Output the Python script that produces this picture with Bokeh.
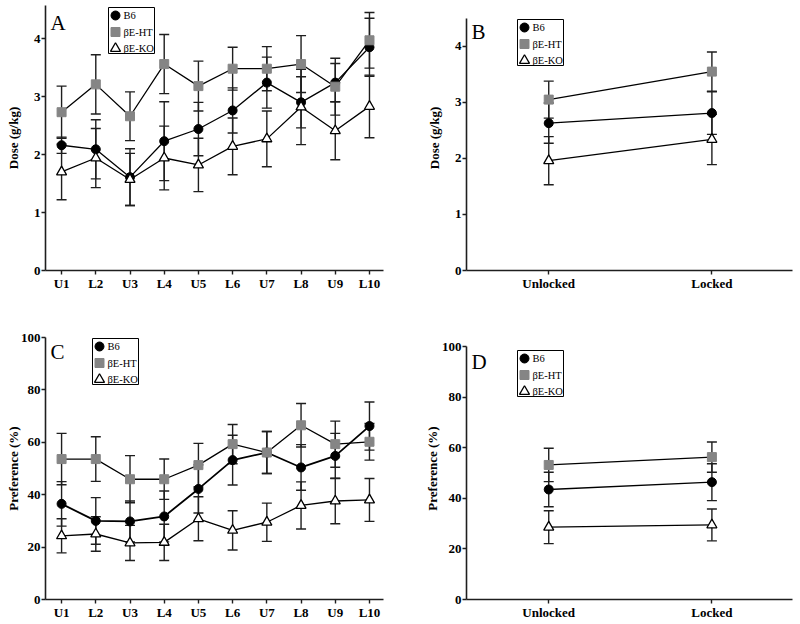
from bokeh.plotting import figure
from bokeh.layouts import row, column
from bokeh.models import FixedTicker, Range1d, Label, ColumnDataSource, BoxAnnotation
from bokeh.embed import file_html
from bokeh.resources import INLINE

FONT = "'Liberation Serif', 'Times New Roman', Times, 'DejaVu Serif', serif"

# ---------------- data ----------------
sessions = ["U1", "L2", "U3", "L4", "U5", "L6", "U7", "L8", "U9", "L10"]
phases = ["Unlocked", "Locked"]
groups = ["B6", "\u03b2E-HT", "\u03b2E-KO"]

# Panel A: dose (g/kg) by session
b6_dose = [2.16, 2.09, 1.61, 2.23, 2.44, 2.76, 3.24, 2.90, 3.24, 3.85]
b6_dose_err = [0.14, 0.51, 0.49, 0.68, 0.46, 0.39, 0.44, 0.44, 0.33, 0.50]
ht_dose = [2.73, 3.21, 2.66, 3.56, 3.18, 3.48, 3.48, 3.56, 3.17, 3.97]
ht_dose_err = [0.45, 0.51, 0.42, 0.51, 0.43, 0.37, 0.38, 0.49, 0.49, 0.48]
ko_dose = [1.70, 1.94, 1.57, 1.94, 1.82, 2.14, 2.27, 2.82, 2.41, 2.83]
ko_dose_err = [0.48, 0.51, 0.45, 0.55, 0.46, 0.49, 0.48, 0.65, 0.50, 0.54]

# Panel B: dose (g/kg) by phase
b6_dose_ph = [2.63, 2.81]
b6_dose_ph_err = [0.36, 0.38]
ht_dose_ph = [3.05, 3.55]
ht_dose_ph_err = [0.33, 0.35]
ko_dose_ph = [1.96, 2.34]
ko_dose_ph_err = [0.43, 0.45]

# Panel C: preference (%) by session
b6_pref = [36.5, 30.0, 29.8, 31.7, 42.2, 53.2, 56.1, 50.4, 54.8, 66.2]
b6_pref_err = [8.5, 8.9, 7.8, 9.7, 9.2, 9.5, 8.0, 8.7, 8.6, 9.2]
ht_pref = [53.6, 53.6, 45.9, 45.9, 51.3, 59.3, 56.1, 66.5, 59.3, 60.2]
ht_pref_err = [9.8, 8.5, 9.0, 7.7, 8.3, 7.5, 8.0, 8.3, 8.8, 7.0]
ko_pref = [24.3, 25.0, 21.6, 21.8, 30.8, 26.4, 29.5, 35.9, 37.6, 38.0]
ko_pref_err = [6.5, 6.6, 6.7, 6.9, 8.4, 7.5, 7.3, 9.0, 8.7, 8.2]

# Panel D: preference (%) by phase
b6_pref_ph = [43.5, 46.4]
b6_pref_ph_err = [6.8, 7.3]
ht_pref_ph = [53.2, 56.3]
ht_pref_ph_err = [6.6, 6.0]
ko_pref_ph = [28.6, 29.5]
ko_pref_ph_err = [6.5, 6.3]

dose_ticks = [0, 1, 2, 3, 4]
pref_ticks = [0, 20, 40, 60, 80, 100]

# ---------------- styles ----------------
STYLES = [
    dict(marker="circle", size=9, fill_color="black", line_color="black", line_width=1),
    dict(marker="square", size=9, fill_color="#858585", line_color="#858585", line_width=1),
    dict(marker="triangle", size=10, fill_color="white", line_color="black", line_width=1.3),
]
AXC = "#1e1e1e"


def make_panel(width, height, borders, xlabels, xr, yr, ybounds, yticks, ylabel,
               ylab_standoff, series, letter, letter_pos, legend_pos, b6_lw=1.3):
    mbl, mbr, mbt, mbb = borders
    fw = width - mbl - mbr
    fh = height - mbt - mbb
    p = figure(width=width, height=height, output_backend="svg", toolbar_location=None,
               x_range=Range1d(*xr), y_range=Range1d(*yr),
               min_border_left=mbl, min_border_right=mbr,
               min_border_top=mbt, min_border_bottom=mbb)
    p.outline_line_color = None
    p.background_fill_color = "white"
    p.border_fill_color = "white"
    p.xgrid.visible = False
    p.ygrid.visible = False

    n = len(xlabels)
    xs = list(range(n))
    p.xaxis.ticker = FixedTicker(ticks=xs)
    p.xaxis.major_label_overrides = {i: lab for i, lab in enumerate(xlabels)}
    p.yaxis.ticker = FixedTicker(ticks=yticks)
    p.yaxis.bounds = ybounds
    for ax in (p.xaxis[0], p.yaxis[0]):
        ax.axis_line_color = AXC
        ax.axis_line_width = 1.6
        ax.major_tick_line_color = AXC
        ax.major_tick_line_width = 1.4
        ax.major_tick_out = 4
        ax.major_tick_in = 0
        ax.minor_tick_out = 0
        ax.minor_tick_in = 0
        ax.major_label_text_font = FONT
        ax.major_label_text_font_style = "bold"
        ax.major_label_text_font_size = "13px"
        ax.major_label_text_color = "black"
        ax.major_label_standoff = 1
    p.yaxis.axis_label = ylabel
    p.yaxis.axis_label_text_font = FONT
    p.yaxis.axis_label_text_font_style = "bold"
    p.yaxis.axis_label_text_font_size = "13px"
    p.yaxis.axis_label_text_color = "black"
    p.yaxis.axis_label_standoff = ylab_standoff

    sources = []
    for (ys, es) in series:
        lo = [y - e for y, e in zip(ys, es)]
        hi = [y + e for y, e in zip(ys, es)]
        sources.append(ColumnDataSource(dict(x=xs, y=ys, lo=lo, hi=hi)))

    # error bars
    for src in sources:
        p.segment(x0="x", y0="lo", x1="x", y1="hi", source=src, line_color=AXC, line_width=1.4)
        p.scatter("x", "lo", source=src, marker="dash", size=10, line_color=AXC, line_width=1.4)
        p.scatter("x", "hi", source=src, marker="dash", size=10, line_color=AXC, line_width=1.4)
    # connecting lines
    for i, src in enumerate(sources):
        p.line("x", "y", source=src, line_color="black", line_width=(b6_lw if i == 0 else 1.3))
    # markers
    for src, st in zip(sources, STYLES):
        p.scatter("x", "y", source=src, **st)

    # legend box (screen units, relative to the plot frame)
    lx, ltop = legend_pos
    p.add_layout(BoxAnnotation(left=lx, right=lx + 46, top=ltop, bottom=ltop - 46,
                               left_units="screen", right_units="screen",
                               top_units="screen", bottom_units="screen",
                               fill_color="white", fill_alpha=1,
                               line_color="black", line_width=1, line_alpha=1))
    for i, (st, name) in enumerate(zip(STYLES, groups)):
        cy = ltop - 8 - 16.5 * i
        xd = xr[0] + (lx + 7) * (xr[1] - xr[0]) / fw
        yd = yr[0] + cy * (yr[1] - yr[0]) / fh
        p.scatter([xd], [yd], level="overlay", **st)
        p.add_layout(Label(x=lx + 15, y=cy, x_units="screen", y_units="screen", text=name,
                           text_font=FONT, text_font_size="10.5px", text_color="black",
                           text_baseline="middle", level="overlay"))

    p.add_layout(Label(x=letter_pos[0], y=letter_pos[1], x_units="screen", y_units="screen",
                       text=letter, text_font=FONT, text_font_size="21px",
                       text_color="black", text_baseline="alphabetic"))
    return p


pA = make_panel(400, 318, (45, 17, 5, 48), sessions, (-0.47, 9.41), (0, 4.57), (0, 4.57),
                dose_ticks, "Dose (g/kg)", 10,
                [(b6_dose, b6_dose_err), (ht_dose, ht_dose_err), (ko_dose, ko_dose_err)],
                "A", (5, 248), (63, 263))
pB = make_panel(399, 318, (66, 7, 5, 48), phases, (-0.504, 1.494), (0, 4.73), (0, 4.5),
                dose_ticks, "Dose (g/kg)", 10,
                [(b6_dose_ph, b6_dose_ph_err), (ht_dose_ph, ht_dose_ph_err), (ko_dose_ph, ko_dose_ph_err)],
                "B", (5, 239), (51, 251))
pC = make_panel(400, 305, (45, 17, 19, 24), sessions, (-0.47, 9.41), (0, 100), (0, 100),
                pref_ticks, "Preference (%)", -3,
                [(b6_pref, b6_pref_err), (ht_pref, ht_pref_err), (ko_pref, ko_pref_err)],
                "C", (5, 248), (47, 261), b6_lw=1.8)
pD = make_panel(399, 305, (66, 7, 19, 24), phases, (-0.504, 1.494), (0, 103.6), (0, 100),
                pref_ticks, "Preference (%)", -1,
                [(b6_pref_ph, b6_pref_ph_err), (ht_pref_ph, ht_pref_ph_err), (ko_pref_ph, ko_pref_ph_err)],
                "D", (5, 238), (51, 249))

layout = column(row(pA, pB), row(pC, pD))
open("out.html", "w").write(file_html(layout, INLINE))
